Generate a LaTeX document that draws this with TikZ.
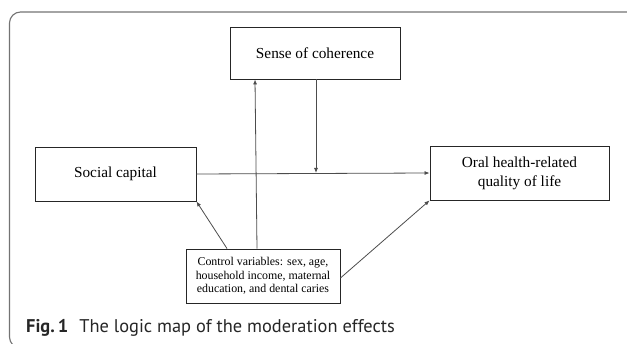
\documentclass[tikz,border=0pt]{standalone}
\usepackage{fontspec}
\setmainfont{Liberation Serif}
\newfontfamily\capfont{PT Sans}
\usetikzlibrary{arrows.meta}
\begin{document}
\begin{tikzpicture}[x=1pt,y=-1pt,
  box/.style={draw=black!85, line width=0.9pt, inner sep=0pt, align=center},
  conn/.style={draw=black!70, line width=0.8pt, -{Latex[length=5pt,width=4pt]}},
  frame/.style={draw=black!55, line width=1.1pt}]
\useasboundingbox (0,0) rectangle (627,344);
\clip (0,0) rectangle (627,344);
\draw[frame, rounded corners=11pt] (660,12) -- (9.5,12) -- (9.5,348) -- (660,348);

\node[box, minimum width=170pt, minimum height=52pt, font=\fontsize{15.3}{18}\selectfont] (soc) at (315,53) {Sense of coherence};
\node[box, minimum width=161pt, minimum height=54pt, font=\fontsize{15.3}{18}\selectfont] (sc) at (115.5,174) {Social capital};
\node[box, minimum width=179pt, minimum height=54pt, font=\fontsize{15.3}{19}\selectfont] (oh) at (519.5,173) {Oral health-related\\quality of life};
\node[box, minimum width=154pt, minimum height=54pt, font=\fontsize{11.9}{13.6}\selectfont] (ctrl) at (263,276) {Control variables: sex, age,\\household income, maternal\\education, and dental caries};

\coordinate (m) at (316,173);
\draw[conn] (sc.east) -- (oh.west);
\draw[conn] (soc.south -| m) -- (m);
\draw[conn] ([xshift=-6pt]ctrl.north) -- ([xshift=-60pt]soc.south);
\draw[conn] ([xshift=-36pt]ctrl.north) -- (sc.south east);
\draw[conn] ([yshift=-2pt]ctrl.east) -- (oh.south west);

\node[anchor=base west, inner sep=0pt, font=\capfont\fontsize{18.4}{21}\selectfont, text=black!85] (cap) at (26,332.5) {\textbf{Fig.\,1}\hspace{11pt}The logic map of the moderation effects};
\end{tikzpicture}
\end{document}
